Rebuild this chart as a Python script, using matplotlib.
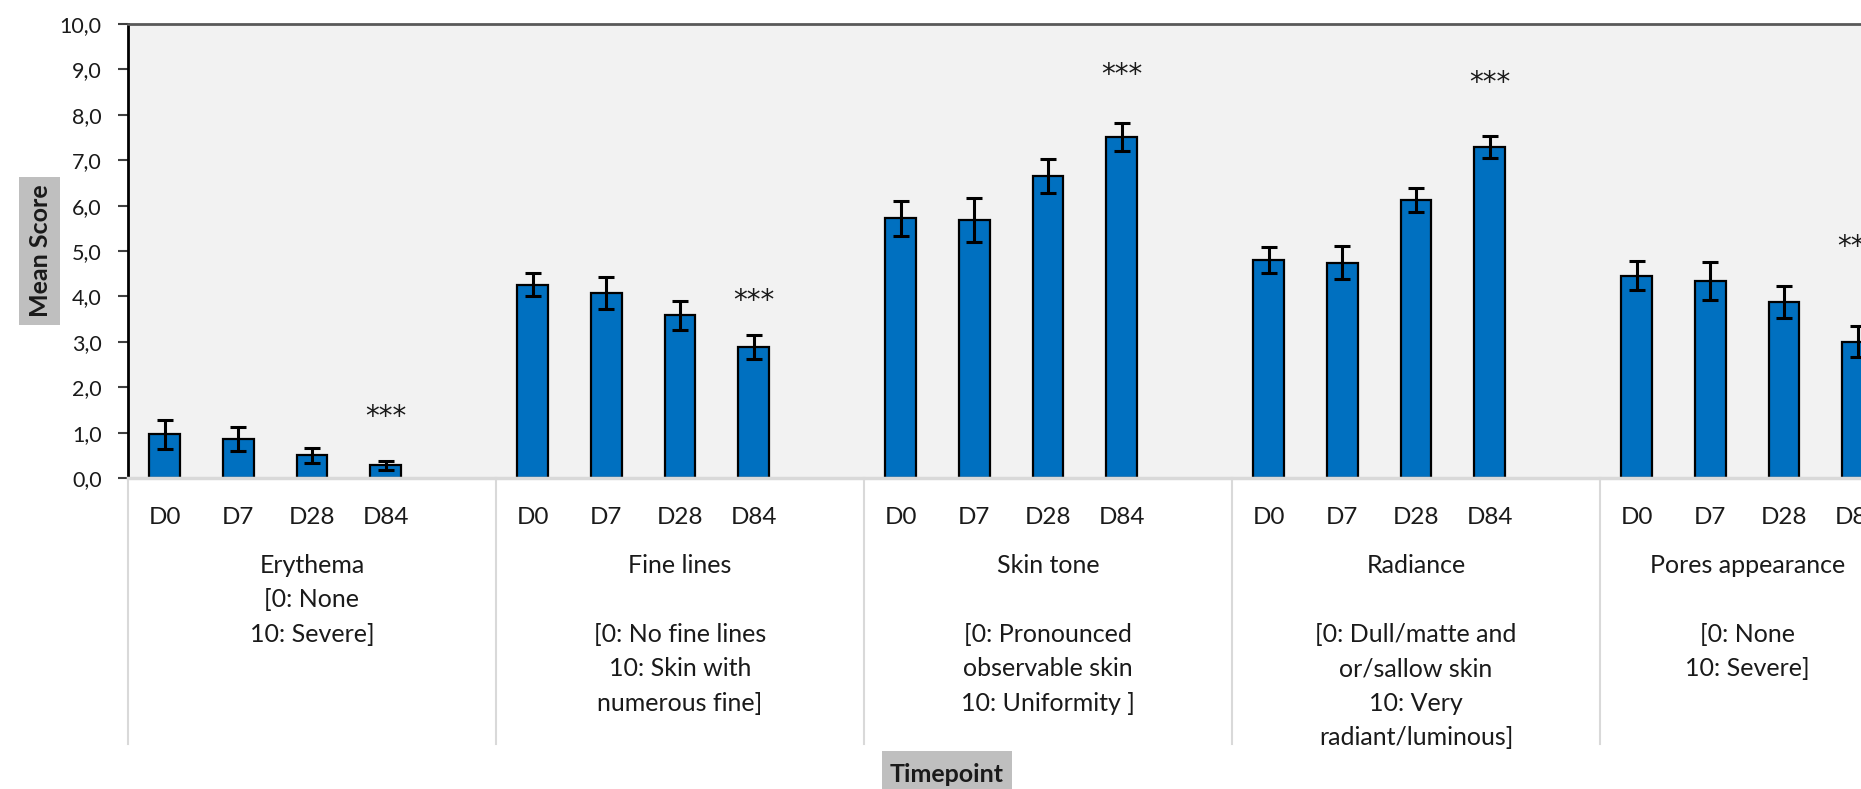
import numpy as np
import matplotlib.pyplot as plt
from matplotlib.patches import Rectangle
from matplotlib.transforms import blended_transform_factory

plt.rcParams['font.family'] = ['Lato', 'DejaVu Sans']

timepoints = ['D0', 'D7', 'D28', 'D84']

parameters = ['Erythema\n[0: None\n10: Severe]',
              'Fine lines\n\n[0: No fine lines\n10: Skin with\nnumerous fine]',
              'Skin tone\n\n[0: Pronounced\nobservable skin\n10: Uniformity ]',
              'Radiance\n\n[0: Dull/matte and\nor/sallow skin\n10: Very\nradiant/luminous]',
              'Pores appearance\n\n[0: None\n10: Severe]']

erythema_mean = [0.96, 0.86, 0.50, 0.28]
erythema_err = [0.32, 0.27, 0.17, 0.10]
fine_lines_mean = [4.26, 4.08, 3.58, 2.89]
fine_lines_err = [0.26, 0.35, 0.32, 0.27]
skin_tone_mean = [5.72, 5.68, 6.65, 7.52]
skin_tone_err = [0.38, 0.48, 0.37, 0.31]
radiance_mean = [4.80, 4.74, 6.13, 7.29]
radiance_err = [0.29, 0.36, 0.26, 0.24]
pores_mean = [4.46, 4.34, 3.88, 3.00]
pores_err = [0.33, 0.42, 0.35, 0.34]

# '***' marks over D84 (p<0.001 vs D0), level
stars_level = [1.49, 4.06, 9.02, 8.85, 5.25]

means = [erythema_mean, fine_lines_mean, skin_tone_mean, radiance_mean, pores_mean]
errs = [erythema_err, fine_lines_err, skin_tone_err, radiance_err, pores_err]

W, H = 1861, 789
fig = plt.figure(figsize=(W / 100, H / 100), dpi=100)
ax = fig.add_axes([128 / W, 1 - 478 / H, 1766.4 / W, 454 / H])
ax.set_facecolor('#F2F2F2')

blue = '#0070C0'
txt = '#1a1a1a'
slot = 5  # 4 timepoints + one blank slot between groups
x_right = 23.5  # last group has no trailing blank slot

xs, ys, es, xlabels = [], [], [], []
for g in range(len(parameters)):
    for i in range(len(timepoints)):
        xs.append(g * slot + i)
        ys.append(means[g][i])
        es.append(errs[g][i])
        xlabels.append(timepoints[i])

ax.bar(xs, ys, width=0.42, color=blue, edgecolor='black', linewidth=1.6, zorder=3)
ax.errorbar(xs, ys, yerr=es, fmt='none', ecolor='black', elinewidth=2.2,
            capsize=6, capthick=2.2, zorder=4)

for g in range(len(parameters)):
    ax.annotate('***', (g * slot + 3, stars_level[g]), xytext=(0, -5),
                textcoords='offset points', ha='center', va='center',
                fontsize=20, color=txt, zorder=5, family='DejaVu Sans')

ax.set_xlim(-0.5, x_right)
ax.set_ylim(0, 10)
ax.set_yticks(np.arange(0, 11, 1))
ax.set_yticklabels(['{:.1f}'.format(v).replace('.', ',') for v in np.arange(0, 11, 1)],
                   fontsize=15.5, color=txt)
ax.tick_params(axis='y', length=7, width=1.5, color='#404040', pad=12)
ax.set_xticks(xs)
ax.set_xticklabels(xlabels, fontsize=17.5, color=txt)
ax.tick_params(axis='x', length=0, pad=21)

ax.spines['right'].set_visible(False)
ax.spines['left'].set_color('black')
ax.spines['left'].set_linewidth(2)
ax.spines['top'].set_color('#595959')
ax.spines['top'].set_linewidth(2)
ax.spines['bottom'].set_color('#D9D9D9')
ax.spines['bottom'].set_linewidth(2.5)
ax.spines['bottom'].set_zorder(5)

# group separators and multi-level labels under the axis
trans = blended_transform_factory(ax.transData, ax.transAxes)
sep_bottom = -(744 - 478) / 454
for g in range(len(parameters)):
    start = g * slot - 0.5
    end = min(start + slot, x_right)
    ax.plot([start, start], [0, sep_bottom], transform=trans,
            color='#D9D9D9', lw=1.5, clip_on=False)
    ax.text((start + end) / 2, -(554 - 478) / 454, parameters[g], transform=trans,
            ha='center', va='top', fontsize=18, color=txt, linespacing=1.6)

# axis titles on grey boxes
fig.patches.append(Rectangle((19 / W, 1 - 325 / H), 41 / W, 148 / H,
                             transform=fig.transFigure, facecolor='#BFBFBF',
                             edgecolor='none'))
fig.text(40 / W, 1 - 251 / H, 'Mean Score', rotation=90, ha='center', va='center',
         fontsize=18, fontweight='bold', color=txt)
fig.patches.append(Rectangle((882 / W, 0), 130 / W, 38 / H,
                             transform=fig.transFigure, facecolor='#BFBFBF',
                             edgecolor='none'))
fig.text(947 / W, 1 - 775 / H, 'Timepoint', ha='center', va='center',
         fontsize=18, fontweight='bold', color=txt)

plt.savefig('out.png', dpi=100)
